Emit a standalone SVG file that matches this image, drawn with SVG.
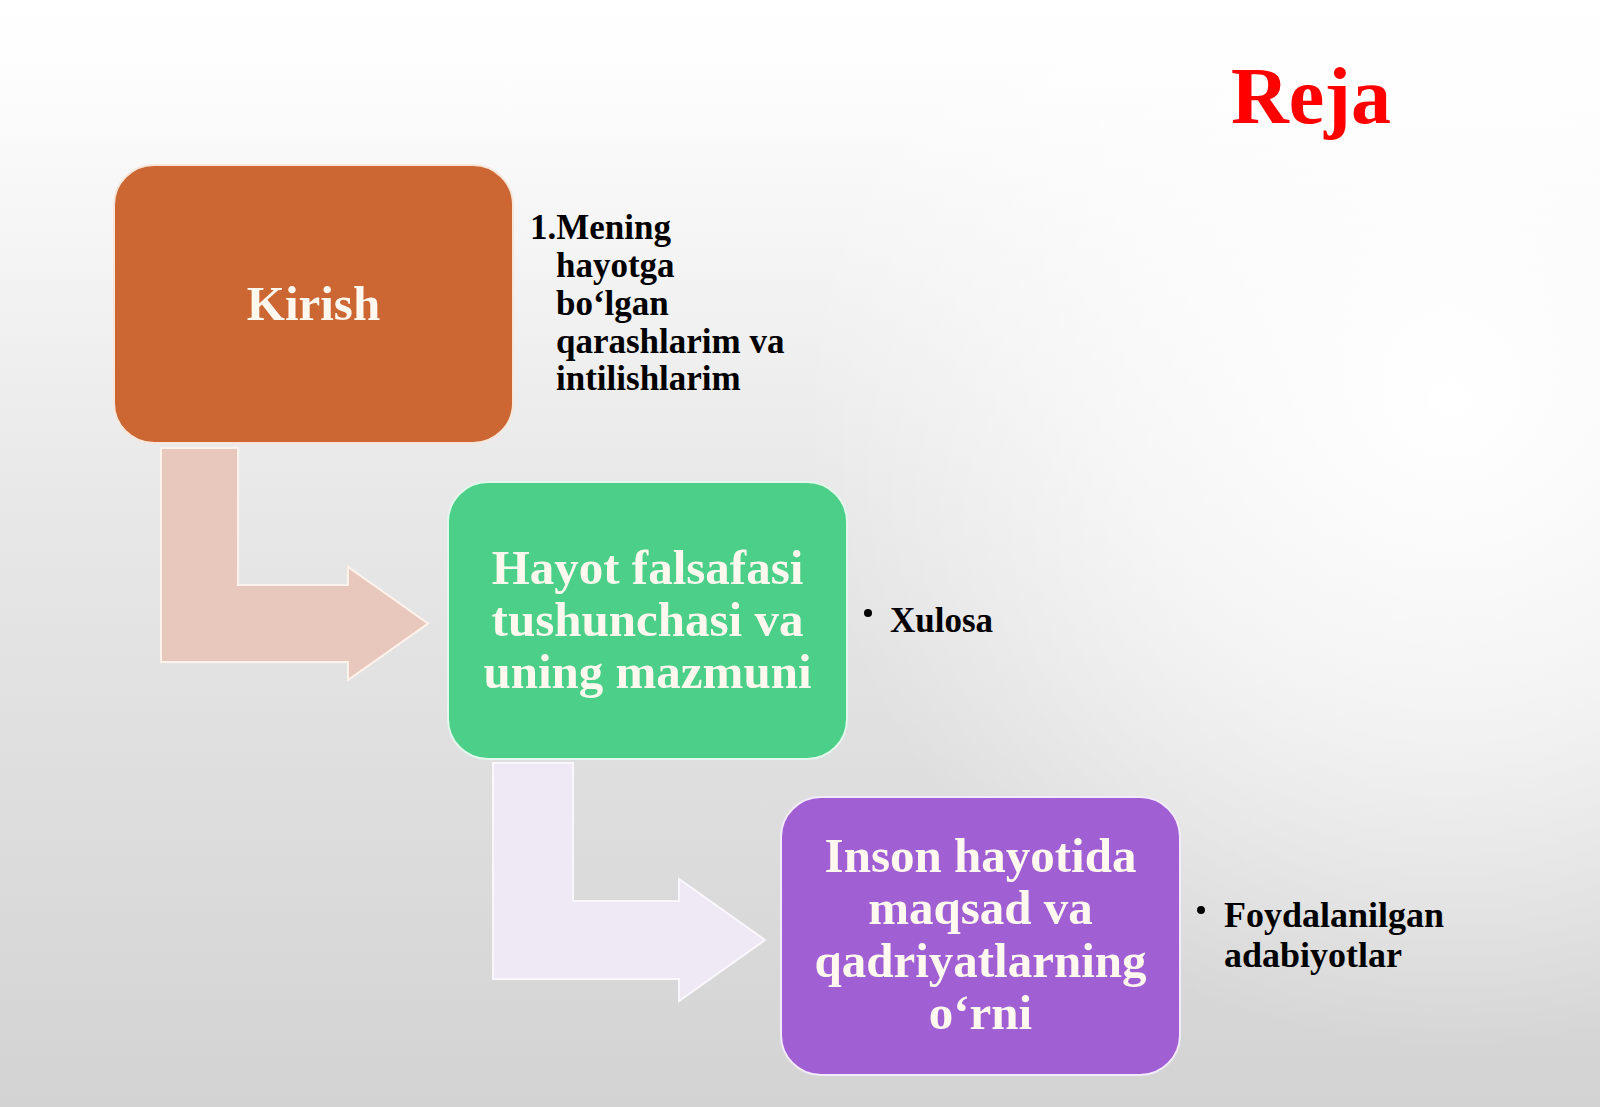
<svg xmlns="http://www.w3.org/2000/svg" width="1600" height="1107" viewBox="0 0 1600 1107">
  <defs>
    <linearGradient id="bg" x1="0" y1="0" x2="0" y2="1">
      <stop offset="0" stop-color="#FFFFFF"/>
      <stop offset="0.07" stop-color="#FDFDFD"/>
      <stop offset="0.45" stop-color="#E8E8E8"/>
      <stop offset="1" stop-color="#D3D3D3"/>
    </linearGradient>
    <radialGradient id="hl" cx="1450" cy="400" r="650" gradientUnits="userSpaceOnUse">
      <stop offset="0" stop-color="#FFFFFF" stop-opacity="1"/>
      <stop offset="0.5" stop-color="#FFFFFF" stop-opacity="0.6"/>
      <stop offset="1" stop-color="#FFFFFF" stop-opacity="0"/>
    </radialGradient>
    <style>
      .serif { font-family: "Liberation Serif", "Times New Roman", serif; font-weight: bold; }
      .title { font-size: 80px; fill: #FF0000; }
      .box-label { font-size: 49px; fill: #FFF8EF; text-anchor: middle; }
      .side { font-size: 35px; fill: #000000; }
      .side-lg { font-size: 36px; fill: #000000; }
      .box { stroke-width: 2; }
      .arrow { stroke-width: 2; stroke-linejoin: miter; }
    </style>
  </defs>

  <rect x="0" y="0" width="1600" height="1107" fill="url(#bg)"/>
  <rect x="0" y="0" width="1600" height="1107" fill="url(#hl)"/>

  <text id="title" class="serif title" x="1231" y="123">Reja</text>

  <g id="connectors">
    <polygon class="arrow" fill="#E8C8BC" stroke="#FFF3EC" points="161,448 238,448 238,585 348,585 348,567 428,623.5 348,680 348,662 161,662"/>
    <polygon class="arrow" fill="#EFE9F6" stroke="#FAF7FC" points="493,763 573,763 573,901 679,901 679,879 765,940 679,1001 679,979 493,979"/>
  </g>

  <g id="node-kirish">
    <rect class="box" x="114" y="165" width="399" height="278" rx="40" ry="40" fill="#CC6633" stroke="#F8E6DA"/>
    <text class="serif box-label" x="313.5" y="320">Kirish</text>
  </g>

  <g id="node-hayot">
    <rect class="box" x="448" y="482" width="399" height="277" rx="40" ry="40" fill="#4CCF88" stroke="#E2F8EC"/>
    <text class="serif box-label" x="647.5" y="584">Hayot falsafasi</text>
    <text class="serif box-label" x="647.5" y="636">tushunchasi va</text>
    <text class="serif box-label" x="647.5" y="688">uning mazmuni</text>
  </g>

  <g id="node-inson">
    <rect class="box" x="781" y="797" width="399" height="278" rx="40" ry="40" fill="#A15FD4" stroke="#F3EAFA"/>
    <text class="serif box-label" x="980.5" y="872">Inson hayotida</text>
    <text class="serif box-label" x="980.5" y="924">maqsad va</text>
    <text class="serif box-label" x="980.5" y="977">qadriyatlarning</text>
    <text class="serif box-label" x="980.5" y="1029">o‘rni</text>
  </g>

  <g id="note-kirish">
    <text class="serif side" x="530" y="239">1.Mening</text>
    <text class="serif side" x="556" y="277">hayotga</text>
    <text class="serif side" x="556" y="315">bo‘lgan</text>
    <text class="serif side" x="556" y="352.5">qarashlarim va</text>
    <text class="serif side" x="556" y="390">intilishlarim</text>
  </g>

  <g id="note-xulosa">
    <circle cx="868" cy="613" r="4" fill="#000000"/>
    <text class="serif side" x="890" y="631.5">Xulosa</text>
  </g>

  <g id="note-adabiyot">
    <circle cx="1201" cy="910" r="4" fill="#000000"/>
    <text class="serif side-lg" x="1224" y="927">Foydalanilgan</text>
    <text class="serif side-lg" x="1224" y="966.5">adabiyotlar</text>
  </g>
</svg>
